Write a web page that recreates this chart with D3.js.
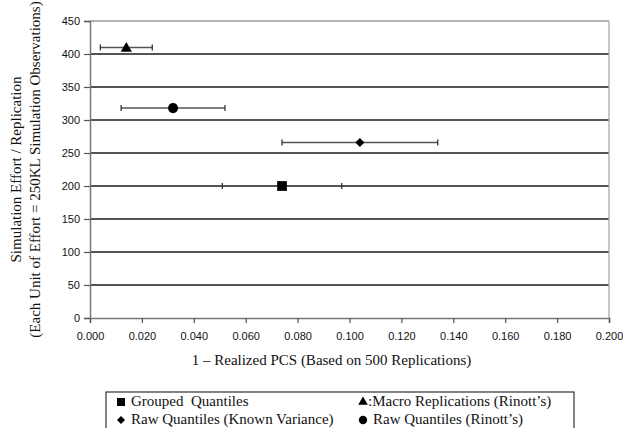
<!DOCTYPE html>
<html><head><meta charset="utf-8">
<script src="https://cdn.jsdelivr.net/npm/d3@7"></script>
<style>body{margin:0;background:#fff}svg{display:block}</style>
</head><body>
<script>
const seriesNames = ["Grouped  Quantiles", "Macro Replications (Rinott\u2019s)", "Raw Quantiles (Known Variance)", "Raw Quantiles (Rinott\u2019s)"];
const seriesSymbols = ["square", "triangle", "diamond", "circle"];
const xValues = [0.074, 0.014, 0.104, 0.032];
const yValues = [200, 410, 266, 318];
const xLow = [0.051, 0.004, 0.074, 0.012];
const xHigh = [0.097, 0.024, 0.134, 0.052];
const xTicks = [0, 0.02, 0.04, 0.06, 0.08, 0.1, 0.12, 0.14, 0.16, 0.18, 0.2];
const yTicks = [0, 50, 100, 150, 200, 250, 300, 350, 400, 450];
const xTitle = "1 \u2013 Realized PCS (Based on 500 Replications)";
const yTitle1 = "Simulation Effort / Replication";
const yTitle2 = "(Each Unit of Effort = 250KL Simulation Observations)";

const W = 623, H = 428;
const svg = d3.select("body").append("svg").attr("width", W).attr("height", H);
const L = 90, R = 609, T = 21, B = 318;
const x = d3.scaleLinear().domain([0, 0.2]).range([L, R]);
const y = d3.scaleLinear().domain([0, 450]).range([B, T]);

// grid
svg.append("g").selectAll("line").data(yTicks.filter(v => v > 0 && v < 450)).join("line")
  .attr("x1", L).attr("x2", R).attr("y1", d => y(d)).attr("y2", d => y(d))
  .attr("stroke", "#1a1a1a").attr("stroke-width", 1.3);
// border top / right
svg.append("line").attr("x1", L).attr("x2", R).attr("y1", y(450)).attr("y2", y(450)).attr("stroke", "#999").attr("stroke-width", 1.3);
svg.append("line").attr("x1", R).attr("x2", R).attr("y1", T).attr("y2", B).attr("stroke", "#aaa").attr("stroke-width", 1.3);

// axes
const fmt = d3.format(".3f");
const xAxis = svg.append("g").attr("transform", `translate(0,${B})`)
  .call(d3.axisBottom(x).tickValues(xTicks).tickFormat(fmt).tickSize(5).tickPadding(9));
const yAxis = svg.append("g").attr("transform", `translate(${L},0)`)
  .call(d3.axisLeft(y).tickValues(yTicks).tickSize(6).tickPadding(4));
[xAxis, yAxis].forEach(g => {
  g.select(".domain").attr("stroke", "#777").attr("stroke-width", 1.5);
  g.selectAll(".tick line").attr("stroke", "#555").attr("stroke-width", 1.2);
  g.selectAll("text").attr("font-family", "Liberation Sans, Arial, sans-serif").attr("font-size", 11).attr("fill", "#111");
});

// error bars
const eb = svg.append("g");
xValues.forEach((v, i) => {
  const yy = y(yValues[i]);
  eb.append("line").attr("x1", x(xLow[i])).attr("x2", x(xHigh[i])).attr("y1", yy).attr("y2", yy)
    .attr("stroke", "#555").attr("stroke-width", 1.5);
  [xLow[i], xHigh[i]].forEach(e => {
    eb.append("line").attr("x1", x(e)).attr("x2", x(e)).attr("y1", yy - 3).attr("y2", yy + 3)
      .attr("stroke", "#333").attr("stroke-width", 1.3);
  });
});

const symMap = {square: d3.symbolSquare, triangle: d3.symbolTriangle, diamond: d3.symbolSquare, circle: d3.symbolCircle};
const rot = s => s === "diamond" ? " rotate(45)" : "";
const symSize = {square: 95, triangle: 55, diamond: 40, circle: 80};
svg.append("g").selectAll("path").data(xValues).join("path")
  .attr("transform", (d, i) => `translate(${x(d)},${y(yValues[i]) + (seriesSymbols[i] === "triangle" ? 1 : 0)})` + rot(seriesSymbols[i]))
  .attr("d", (d, i) => d3.symbol(symMap[seriesSymbols[i]], symSize[seriesSymbols[i]])())
  .attr("fill", "#000");

// titles
svg.append("text").attr("x", (L + R) / 2 - 18).attr("y", 365).attr("text-anchor", "middle")
  .attr("font-family", "Liberation Serif, Times New Roman, serif").attr("font-size", 15).attr("fill", "#111").text(xTitle);
const yc = (T + B) / 2;
svg.append("text").attr("transform", `translate(21,${yc}) rotate(-90)`).attr("text-anchor", "middle")
  .attr("font-family", "Liberation Serif, Times New Roman, serif").attr("font-size", 15).attr("fill", "#111").text(yTitle1);
svg.append("text").attr("transform", `translate(40,${yc}) rotate(-90)`).attr("text-anchor", "middle")
  .attr("font-family", "Liberation Serif, Times New Roman, serif").attr("font-size", 15).attr("fill", "#111").text(yTitle2);

// legend
const leg = svg.append("g");
leg.append("rect").attr("x", 106).attr("y", 392).attr("width", 468).attr("height", 50)
  .attr("fill", "#fff").attr("stroke", "#333").attr("stroke-width", 1.2);
const legPos = [[121, 406], [363, 406], [121, 424], [363, 424]];
const legSym = {square: 64, triangle: 40, diamond: 32, circle: 55};
seriesNames.forEach((n, i) => {
  const [lx, ly] = legPos[i];
  leg.append("path").attr("transform", `translate(${lx},${ly - 4})` + rot(seriesSymbols[i]))
    .attr("d", d3.symbol(symMap[seriesSymbols[i]], legSym[seriesSymbols[i]])()).attr("fill", "#000");
  leg.append("text").attr("x", lx + (i === 1 ? 5 : 10)).attr("y", ly)
    .attr("font-family", "Liberation Serif, Times New Roman, serif").attr("font-size", 15).attr("fill", "#111")
    .attr("xml:space", "preserve").style("white-space", "pre")
    .text((i === 1 ? ":" : "") + n);
});
</script>
</body></html>
